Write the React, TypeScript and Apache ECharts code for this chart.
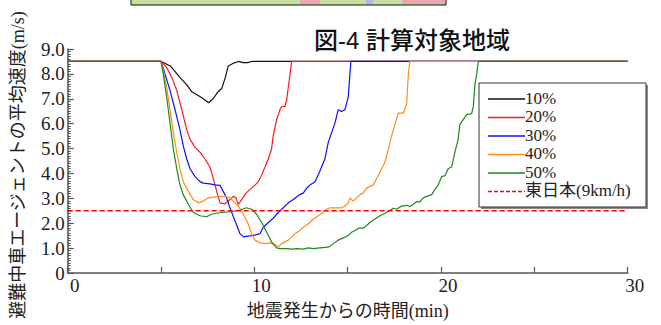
import React, { useEffect, useRef } from "react";
import * as echarts from "echarts";

const seriesNames = ["10%", "20%", "30%", "40%", "50%"];
const refName = "東日本(9km/h)";
const refSpeed = 2.5;
const xTicks = [0, 10, 20, 30];

const p10 = [[0,8.5],[5,8.5],[5.5,8.32],[6.0,7.87],[6.4,7.54],[6.65,7.28],[7.1,7.08],[7.3,6.98],[7.55,6.84],[7.8,7.01],[8.05,7.28],[8.25,7.41],[8.45,7.87],[8.6,8.32],[8.85,8.42],[9.15,8.5],[9.4,8.45],[9.65,8.45],[9.85,8.5],[30,8.5]];
const p20 = [[0,8.5],[5,8.5],[5.3,8.26],[5.57,7.87],[5.84,7.34],[6.11,6.56],[6.37,5.77],[6.55,5.38],[6.82,5.05],[7.09,4.85],[7.35,4.59],[7.62,4.26],[7.8,3.8],[7.98,3.28],[8.16,2.82],[8.42,2.78],[8.69,2.95],[8.87,3.08],[9.01,3.02],[9.14,2.76],[9.32,2.95],[9.58,3.23],[9.76,3.35],[10.05,3.54],[10.21,3.67],[10.39,3.94],[10.57,4.26],[10.75,4.59],[10.92,4.98],[11.01,5.51],[11.19,6.16],[11.37,6.56],[11.46,6.69],[11.64,6.69],[11.73,6.95],[11.82,7.47],[11.91,8.0],[12.0,8.5],[30,8.5]];
const p30 = [[0,8.5],[5,8.5],[5.21,8.0],[5.48,7.34],[5.75,6.56],[6.01,5.77],[6.19,5.12],[6.37,4.59],[6.55,4.2],[6.82,3.87],[7.09,3.67],[7.26,3.61],[7.62,3.58],[7.89,3.54],[8.16,3.52],[8.33,3.28],[8.51,3.02],[8.69,2.62],[8.96,2.1],[9.23,1.58],[9.41,1.45],[9.76,1.49],[10.12,1.54],[10.3,1.58],[10.48,1.84],[10.75,2.03],[11.01,2.2],[11.19,2.36],[11.37,2.49],[11.55,2.62],[11.82,2.82],[12.08,2.95],[12.44,3.15],[12.62,3.21],[12.8,3.41],[12.98,3.54],[13.25,3.67],[13.42,3.94],[13.6,4.26],[13.78,4.59],[13.96,5.25],[14.14,5.64],[14.32,6.03],[14.49,6.56],[14.67,6.49],[14.85,6.56],[15.03,7.08],[15.12,8.0],[15.17,8.5],[30,8.5]];
const p40 = [[0,8.5],[5,8.5],[5.12,8.13],[5.3,7.47],[5.48,6.56],[5.66,5.64],[5.84,4.85],[6.01,4.2],[6.19,3.67],[6.46,3.28],[6.73,2.95],[7.0,2.82],[7.26,2.89],[7.53,3.02],[7.89,3.06],[8.16,3.08],[8.42,3.08],[8.69,3.02],[8.87,2.89],[9.14,2.69],[9.41,2.36],[9.67,1.98],[9.85,1.58],[10.03,1.32],[10.3,1.21],[10.57,1.18],[10.83,1.21],[11.1,1.15],[11.28,1.05],[11.46,1.18],[11.64,1.25],[11.82,1.32],[12.0,1.45],[12.17,1.58],[12.44,1.71],[12.62,1.84],[12.89,1.98],[13.16,2.17],[13.42,2.3],[13.69,2.43],[13.87,2.56],[14.05,2.62],[14.4,2.62],[14.67,2.62],[14.85,2.69],[15.03,2.82],[15.12,3.02],[15.3,2.89],[15.48,3.02],[15.66,3.15],[15.83,3.21],[16.01,3.41],[16.19,3.48],[16.37,3.54],[16.55,3.8],[16.82,4.2],[17.0,4.46],[17.18,4.98],[17.35,5.51],[17.53,5.97],[17.71,6.42],[17.98,6.42],[18.16,6.82],[18.25,8.0],[18.33,8.5],[30,8.5]];
const p50 = [[0,8.5],[5,8.5],[5.12,8.0],[5.3,7.08],[5.48,6.03],[5.66,4.98],[5.84,4.2],[6.01,3.54],[6.19,3.15],[6.46,2.76],[6.73,2.43],[7.09,2.3],[7.44,2.26],[7.71,2.36],[7.98,2.4],[8.25,2.43],[8.6,2.45],[8.96,2.49],[9.23,2.53],[9.58,2.62],[9.85,2.56],[10.12,2.36],[10.39,2.03],[10.66,1.64],[10.92,1.25],[11.19,1.01],[11.37,0.98],[11.73,0.98],[12.0,0.96],[12.27,0.98],[12.62,0.96],[12.89,1.01],[13.16,0.98],[13.51,1.01],[13.78,1.03],[14.01,1.05],[14.23,1.18],[14.49,1.32],[14.76,1.41],[15.03,1.51],[15.21,1.64],[15.39,1.71],[15.57,1.8],[15.83,1.8],[16.01,1.91],[16.19,2.03],[16.46,2.17],[16.73,2.3],[17.0,2.4],[17.18,2.47],[17.44,2.6],[17.62,2.56],[17.89,2.69],[18.16,2.72],[18.33,2.67],[18.51,2.76],[18.69,2.86],[18.87,2.86],[19.05,3.02],[19.23,3.08],[19.5,3.15],[19.67,3.35],[19.85,3.54],[20.03,3.87],[20.21,3.91],[20.39,4.2],[20.57,4.26],[20.74,4.85],[20.92,5.38],[21.01,5.97],[21.19,6.16],[21.37,6.36],[21.64,6.4],[21.73,6.69],[21.82,7.6],[21.91,8.0],[22.0,8.5],[30,8.5]];

const seriesData = [p10, p20, p30, p40, p50];
const colors = ["#111111", "#ff1a1a", "#1010ff", "#ff8c1a", "#1a8a1a"];
const refColor = "#ff0000";

const NUM_FONT = "Times New Roman, Liberation Serif, serif";
const MIX_FONT = "Times New Roman, Liberation Serif, Noto Sans CJK JP, serif";

export default function App() {
  const ref = useRef<HTMLDivElement>(null);
  useEffect(() => {
    if (!ref.current) return;
    const chart = echarts.init(ref.current, null, { renderer: "svg" });
    const lines: any[] = seriesNames.map((name, i) => ({
      name,
      type: "line",
      data: seriesData[i],
      showSymbol: false,
      symbol: "none",
      lineStyle: { color: colors[i], width: 1.2 },
      itemStyle: { color: colors[i] },
      z: 2 + i,
    }));
    lines.push({
      name: refName,
      type: "line",
      data: [[xTicks[0], refSpeed], [xTicks[xTicks.length - 1], refSpeed]],
      showSymbol: false,
      symbol: "none",
      lineStyle: { color: refColor, width: 1.5, type: [5, 3] },
      itemStyle: { color: refColor },
      z: 10,
    });

    const legendNames = [...seriesNames, refName];
    const legendColors = [...colors, refColor];
    const boxX = 479, boxY = 83, boxW = 167, boxH = 124;
    const rowY0 = 98, rowStep = 18.5;
    const legendEls: any[] = [
      { type: "rect", shape: { x: boxX + 2, y: boxY + 2, width: boxW, height: boxH }, style: { fill: "#8a8a8a" }, z: 20 },
      { type: "rect", shape: { x: boxX, y: boxY, width: boxW, height: boxH }, style: { fill: "#ffffff", stroke: "#333", lineWidth: 1 }, z: 21 },
    ];
    legendNames.forEach((n, i) => {
      const y = rowY0 + i * rowStep;
      const isRef = i === legendNames.length - 1;
      legendEls.push({
        type: "line",
        shape: { x1: 488, y1: y + 1, x2: 525, y2: y + 1 },
        style: { stroke: legendColors[i], lineWidth: 1.3, lineDash: isRef ? [4, 2] : null },
        z: 22,
      });
      legendEls.push({
        type: "text",
        x: 525,
        y,
        style: {
          text: n,
          fontFamily: MIX_FONT,
          fontSize: 17,
          fill: "#222",
          textAlign: "left",
          textVerticalAlign: "middle",
        },
        z: 22,
      });
    });

    chart.setOption({
      animation: false,
      backgroundColor: "#ffffff",
      grid: { left: 67.7, right: 33.3, top: 49, bottom: 46.5, containLabel: false },
      xAxis: {
        type: "value",
        min: 0,
        max: 30,
        interval: 5,
        axisLine: { show: true, lineStyle: { color: "#555", width: 1.5 } },
        axisTick: { show: true, inside: true, length: 6, lineStyle: { color: "#555", width: 1.2 } },
        axisLabel: {
          interval: 1,
          formatter: (v: number) => (v % 10 === 0 ? String(v) : ""),
          fontFamily: NUM_FONT,
          fontSize: 19,
          color: "#222",
          margin: 3,
          padding: [0, 0, 0, 14],
        },
        splitLine: { show: false },
        name: "地震発生からの時間(min)",
        nameLocation: "middle",
        nameGap: 29,
        nameTextStyle: { fontFamily: MIX_FONT, fontSize: 18, color: "#222" },
      },
      yAxis: {
        type: "value",
        min: 0,
        max: 9,
        interval: 1,
        axisLine: { show: true, lineStyle: { color: "#555", width: 1.5 } },
        axisTick: { show: true, inside: true, length: 6, lineStyle: { color: "#555", width: 1.2 } },
        minorTick: { show: true, splitNumber: 10, length: 3, lineStyle: { color: "#555", width: 1 } },
        axisLabel: {
          formatter: (v: number) => (v === 0 ? "0" : v.toFixed(1)),
          fontFamily: NUM_FONT,
          fontSize: 19,
          color: "#222",
          margin: 3,
        },
        splitLine: { show: false },
      },
      legend: { show: false },
      graphic: [
        {
          type: "rect",
          shape: { x: 131, y: -2, width: 315, height: 7 },
          style: { fill: "#c6dfa0", stroke: "#111", lineWidth: 1 },
        },
        { type: "rect", shape: { x: 300, y: 0, width: 20, height: 4 }, style: { fill: "#e8a8b0" } },
        { type: "rect", shape: { x: 366, y: 0, width: 7, height: 4 }, style: { fill: "#a8b8e8" } },
        { type: "rect", shape: { x: 402, y: 0, width: 43, height: 4 }, style: { fill: "#e8a8b0" } },
        {
          type: "text",
          x: 412,
          y: 40,
          style: {
            text: "図-4 計算対象地域",
            fontFamily: "Liberation Sans, Noto Sans CJK JP, sans-serif",
            fontSize: 24,
            fontWeight: 500,
            fill: "#111",
            textAlign: "center",
            textVerticalAlign: "middle",
          },
        },
        {
          type: "text",
          x: 18,
          y: 165,
          rotation: Math.PI / 2,
          style: {
            text: "避難中車エージェントの平均速度(m/s)",
            fontFamily: MIX_FONT,
            fontSize: 18,
            fill: "#222",
            textAlign: "center",
            textVerticalAlign: "middle",
          },
        },
        ...legendEls,
      ],
      series: lines,
    });
    return () => chart.dispose();
  }, []);
  return (
    <div
      ref={ref}
      style={{ position: "fixed", left: 0, top: 0, width: 661, height: 325 }}
    />
  );
}
